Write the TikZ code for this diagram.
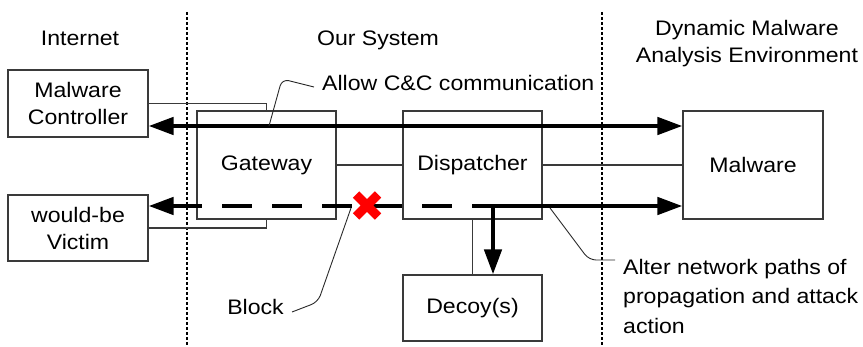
\documentclass[tikz,border=0pt]{standalone}
\usepackage{fontspec}
\setmainfont{Liberation Sans}[FakeStretch=1.1]
\usetikzlibrary{arrows.meta,shapes.misc}
\definecolor{boxgray}{HTML}{3A3A3A}
\definecolor{leadgray}{HTML}{2A2A2A}
\definecolor{xred}{HTML}{FF0000}
\tikzset{
  lbl/.style={font=\fontsize{21}{27}\selectfont, inner sep=0pt, align=center},
  unit/.style={lbl, draw=boxgray, line width=1.1pt, minimum width=140pt},
  wire/.style={draw=boxgray, line width=1.1pt},
  leader/.style={draw=leadgray, line width=0.9pt, rounded corners=7pt},
  bigtip/.tip={Triangle[length=25pt,width=17pt]},
  flow/.style={line width=4.5pt, draw=black},
  zone/.style={line width=2.6pt, dash pattern=on 2.6pt off 2.4pt},
}
\begin{document}
\begin{tikzpicture}[x=1pt,y=-1pt]
\useasboundingbox (0,0) rectangle (863,347);

% zone separators
\draw[zone] (187,12) -- (187,345);
\draw[zone] (602,12) -- (602,345);

% zone titles
\node[lbl, anchor=base] (tinet) at (80,45.5) {Internet};
\node[lbl, anchor=base] (tsys) at (378,45.5) {Our System};
\node[lbl] (tenv) at (747,43.5) {Dynamic Malware\\Analysis Environment};

% boxes
\node[unit, minimum height=67pt] (mc) at (78,103.5) {Malware\\Controller};
\node[unit, minimum height=66pt] (vic) at (78,228) {would-be\\Victim};
\node[unit, minimum width=139pt, minimum height=108pt] (gw) at (266.5,165) {Gateway};
\node[unit, minimum width=139pt, minimum height=108pt] (dp) at (472.5,165) {Dispatcher};
\node[unit, minimum height=108pt] (mw) at (753,165) {Malware};
\node[unit, minimum width=139pt, minimum height=66pt] (dc) at (472.5,308) {Decoy(s)};

% physical links
\draw[wire] (mc.east) -| (gw.north);
\draw[wire] (vic.east) -| (gw.south);
\draw[wire] (gw.east) -- (dp.west);
\draw[wire] (dp.east) -- (mw.west);
\draw[wire] (dp.south) -- (dc.north);

% traffic rows
\coordinate (rowcc) at (0,126);
\coordinate (rowatk) at (0,206);
\coordinate (fork) at (493,206);

% C&C traffic passes through
\draw[flow, bigtip-bigtip] (mc.east |- rowcc) -- (mw.west |- rowcc);

% attack traffic: blocked towards the victim, redirected to decoys
\draw[flow, bigtip-, dash pattern=on 30pt off 20pt] (vic.east |- rowatk) -- (fork);
\draw[flow, -bigtip] ([xshift=-3pt]fork) -- (mw.west |- rowatk);
\draw[flow, -bigtip] (fork) -- (dc.north -| fork);

% block mark
\node[cross out, draw=xred, line width=9pt, minimum size=22pt, inner sep=0pt, outer sep=0pt] (blk) at (367,205.5) {};

% annotations
\node[lbl, anchor=west] (tallow) at (322,83) {Allow C\&C communication};
\node[lbl, anchor=east] (tblock) at (284,307) {Block};
\node[lbl, anchor=west, align=left, font=\fontsize{21}{29.5}\selectfont] (talter) at (623,296)
  {Alter network paths of\\propagation and attack\\action};

\coordinate (allowfoot) at (269,126);
\coordinate (blockfoot) at (351,208);
\coordinate (alterfoot) at (550,208);

\draw[leader] (allowfoot) -- (282,79) -- ([xshift=-8pt,yshift=-4pt]tallow.west);
\draw[leader] (blockfoot) -- (318,302) -- ([xshift=8pt,yshift=-5pt]tblock.east);
\draw[leader] (alterfoot) -- (589,260) -- (615,260);
\end{tikzpicture}
\end{document}
